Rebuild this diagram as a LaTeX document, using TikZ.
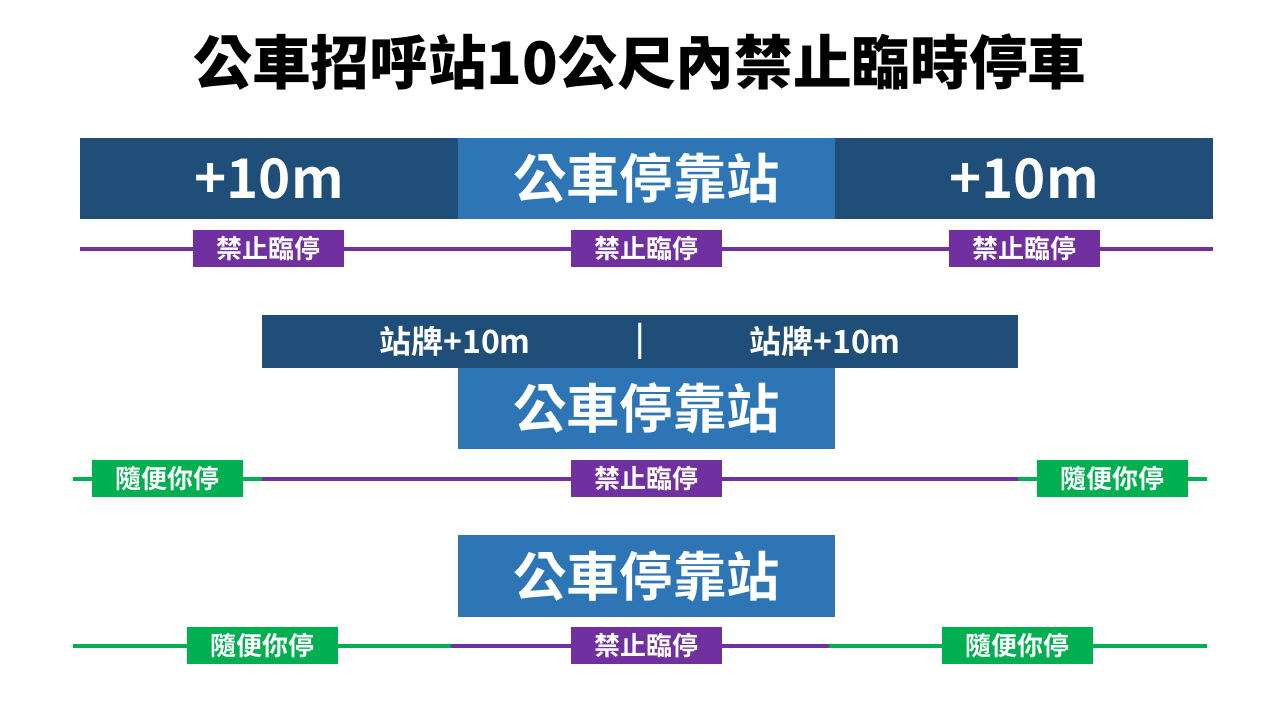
\documentclass[tikz,border=0pt]{standalone}
\usepackage{fontspec}
\setmainfont{Noto Sans CJK TC}[BoldFont={Noto Sans CJK TC Bold}]
\newfontfamily\titlefont{Noto Sans CJK TC Black}
\definecolor{darkblue}{HTML}{1F4E79}
\definecolor{midblue}{HTML}{2E75B6}
\definecolor{nopark}{HTML}{7030A0}
\definecolor{okpark}{HTML}{00B050}
\tikzset{
	zone/.style={fill=darkblue, text=white, inner sep=0pt, minimum width=283.5pt, minimum height=60.75pt, font=\bfseries\fontsize{41}{44}\selectfont},
	stop/.style={fill=midblue, text=white, inner sep=0pt, minimum width=282.75pt, minimum height=61pt, font=\bfseries\fontsize{40}{44}\selectfont},
	tag/.style={text=white, inner sep=0pt, minimum width=113.25pt, minimum height=27.75pt, font=\bfseries\fontsize{19.5}{22}\selectfont},
	notag/.style={tag, fill=nopark},
	oktag/.style={tag, fill=okpark},
	sign/.style={text=white, font=\bfseries\fontsize{24}{26}\selectfont},
	noline/.style={draw=nopark, line width=3pt},
	okline/.style={draw=okpark, line width=3pt}
}
\begin{document}
\begin{tikzpicture}[x=0.75pt, y=-0.75pt]
	\useasboundingbox[fill=white] (0,0) rectangle (1280,720);
	\node (T) at (640,62) {\titlefont\fontsize{44}{48}\selectfont 公車招呼站10公尺內禁止臨時停車};
	\node[zone] (A1) at (269,178.5) {+10m};
	\node[stop] (B1) at (646.5,178.5) {公車停靠站};
	\node[zone] (C1) at (1024,178.5) {+10m};
	\node[notag] (a1) at (268.5,248.5) {禁止臨停};
	\node[notag] (b1) at (646.5,248.5) {禁止臨停};
	\node[notag] (c1) at (1024.5,248.5) {禁止臨停};
	\coordinate (L1) at (80,248.5);
	\coordinate (R1) at (1213,248.5);
	\draw[noline] (L1)--(a1.west) (a1.east)--(b1.west) (b1.east)--(c1.west) (c1.east)--(R1);
	\node[fill=darkblue, inner sep=0pt, minimum width=567pt, minimum height=39.75pt] (S2) at (640,341.5) {};
	\node[sign] (s1) at (455,341.5) {站牌+10m};
	\node[sign] (s2) at (640,341.5) {|};
	\node[sign] (s3) at (825,341.5) {站牌+10m};
	\node[stop] (B2) at (646.5,408.5) {公車停靠站};
	\node[oktag] (g1) at (167.5,478.5) {隨便你停};
	\node[notag] (b2) at (646.5,478.5) {禁止臨停};
	\node[oktag] (g2) at (1112.5,478.5) {隨便你停};
	\coordinate (L2) at (73,478.5);
	\coordinate (M2) at (S2.south west |- L2);
	\coordinate (N2) at (S2.south east |- L2);
	\coordinate (R2) at (1207,478.5);
	\draw[okline] (L2)--(g1.west) (g1.east)--(M2) (N2)--(g2.west) (g2.east)--(R2);
	\draw[noline] (M2)--(b2.west) (b2.east)--(N2);
	\node[stop] (B3) at (646.5,576) {公車停靠站};
	\node[oktag] (g3) at (262.5,645.5) {隨便你停};
	\node[notag] (b3) at (646.5,645.5) {禁止臨停};
	\node[oktag] (g4) at (1017.5,645.5) {隨便你停};
	\coordinate (L3) at (73,645.5);
	\coordinate (M3) at (451,645.5);
	\coordinate (N3) at (829,645.5);
	\coordinate (R3) at (1207,645.5);
	\draw[okline] (L3)--(g3.west) (g3.east)--(M3) (N3)--(g4.west) (g4.east)--(R3);
	\draw[noline] (M3)--(b3.west) (b3.east)--(N3);
\end{tikzpicture}
\end{document}
